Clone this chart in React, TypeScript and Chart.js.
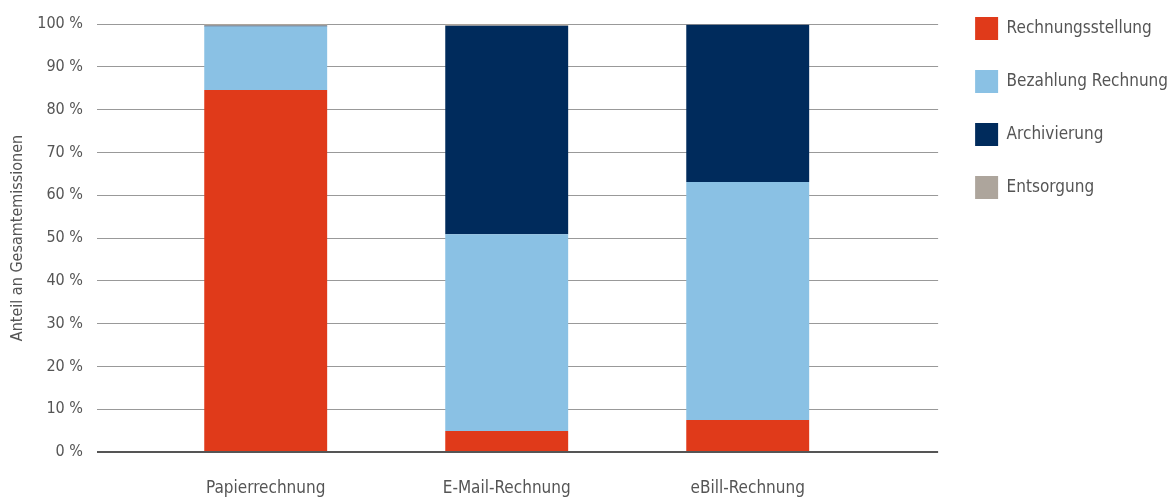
import React, { useEffect, useRef } from "react";
import { Chart, registerables } from "chart.js";

Chart.register(...registerables);

const categories = ["Papierrechnung", "E-Mail-Rechnung", "eBill-Rechnung"];
const rechnungsstellung = [84.6, 4.9, 7.5];
const bezahlung = [14.8, 46.0, 55.6];
const archivierung = [0.2, 48.7, 36.7];
const entsorgung = [0.4, 0.4, 0.2];
const yTicks = [0, 10, 20, 30, 40, 50, 60, 70, 80, 90, 100];
const xMin = -0.7;
const xMax = 2.79;

const FONT = "'Liberation Sans Narrow', 'DejaVu Sans Condensed', Roboto, sans-serif";
const TEXT = "#555555";

const toPoints = (vals: number[]) => vals.map((v, i) => ({ x: i, y: v }));

const legendShift = {
  id: "legendShift",
  afterLayout(chart: any) {
    const lg = chart.legend;
    if (!lg) return;
    const dy = -21;
    const dx = 7;
    lg.top += dy;
    lg.bottom += dy;
    lg.left += dx;
    lg.right += dx;
    if (lg.legendHitBoxes) {
      lg.legendHitBoxes.forEach((b: any) => {
        b.top += dy;
        b.left += dx;
      });
    }
  },
};

export default function App() {
  const ref = useRef<HTMLCanvasElement>(null);
  useEffect(() => {
    if (!ref.current) return;
    const chart = new Chart(ref.current, {
      type: "bar",
      data: {
        datasets: [
          { label: "Rechnungsstellung", data: toPoints(rechnungsstellung), backgroundColor: "#E03A1A" },
          { label: "Bezahlung Rechnung", data: toPoints(bezahlung), backgroundColor: "#8AC1E4" },
          { label: "Archivierung", data: toPoints(archivierung), backgroundColor: "#002B5C" },
          { label: "Entsorgung", data: toPoints(entsorgung), backgroundColor: "#ADA59C" },
        ],
      },
      plugins: [legendShift],
      options: {
        animation: false,
        responsive: true,
        maintainAspectRatio: false,
        datasets: { bar: { categoryPercentage: 1, barPercentage: 0.51 } },
        layout: { padding: { top: 0, right: -3, left: 0, bottom: 0 } },
        plugins: {
          tooltip: { enabled: false },
          legend: {
            position: "right",
            align: "start",
            labels: {
              boxWidth: 23,
              boxHeight: 23,
              padding: 30,
              color: TEXT,
              font: { family: FONT, size: 17 },
            },
          },
        },
        scales: {
          x: {
            type: "linear",
            stacked: true,
            offset: false,
            min: xMin,
            max: xMax,
            afterBuildTicks: (axis: any) => {
              axis.ticks = categories.map((_, i) => ({ value: i }));
            },
            grid: { display: false, drawTicks: false },
            border: { display: false },
            ticks: {
              color: TEXT,
              font: { family: FONT, size: 17 },
              padding: 26,
              autoSkip: false,
              maxRotation: 0,
              callback: (v: any) => categories[v] ?? "",
            },
            afterFit: (scale: any) => {
              scale.height = 47;
              scale.paddingLeft = 0;
              scale.paddingRight = 0;
            },
          },
          y: {
            stacked: true,
            min: 0,
            max: 100,
            afterBuildTicks: (axis: any) => {
              axis.ticks = yTicks.map((v) => ({ value: v }));
            },
            afterFit: (scale: any) => {
              scale.width = 89;
              scale.paddingTop = 16;
            },
            grid: {
              drawTicks: false,
              color: (ctx: any) => (ctx.tick && ctx.tick.value === 0 ? "#555555" : "#999999"),
              lineWidth: (ctx: any) => (ctx.tick && ctx.tick.value === 0 ? 2 : 1),
            },
            border: { display: false },
            ticks: {
              color: TEXT,
              font: { family: FONT, size: 16 },
              padding: 14,
              callback: (v: any) => v + " %",
            },
            title: {
              display: true,
              text: "Anteil an Gesamtemissionen",
              color: TEXT,
              font: { family: FONT, size: 16 },
              padding: { top: 0, bottom: 0 },
            },
          },
        },
      },
    });
    return () => chart.destroy();
  }, []);
  return (
    <div style={{ width: 1160, height: 491 }}>
      <canvas ref={ref} />
    </div>
  );
}
